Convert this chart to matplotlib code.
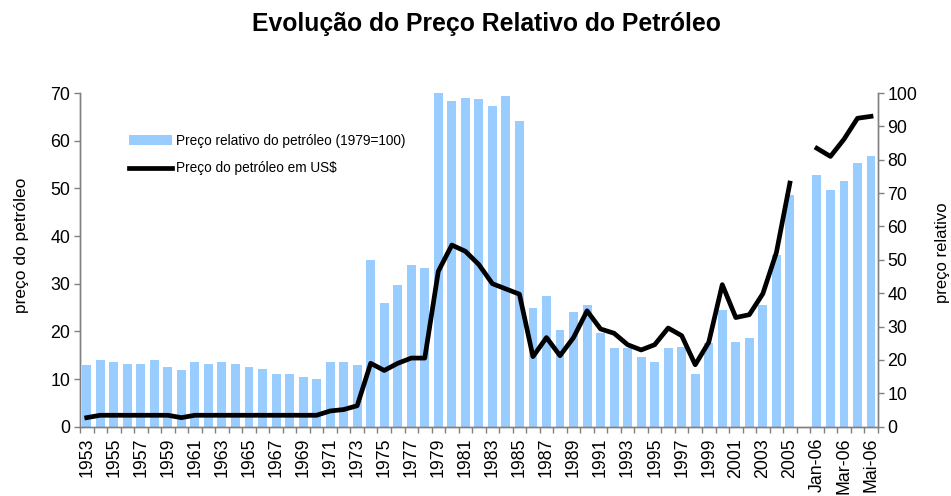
import numpy as np
import matplotlib
matplotlib.use('Agg')
import matplotlib.pyplot as plt
from matplotlib.patches import Patch
from matplotlib.lines import Line2D

plt.rcParams['font.family'] = ['Liberation Sans', 'DejaVu Sans']

# Categorias: anos 1953-2005, uma posição vazia e os meses de 2006
anos = [str(a) for a in range(1953, 2006)]
meses = ['Jan-06', 'Fev-06', 'Mar-06', 'Abr-06', 'Mai-06']
categorias = anos + [''] + meses

# Preço relativo do petróleo (1979=100), eixo da direita
preco_relativo = [18.5, 20.0, 19.4, 18.8, 18.8, 20.0, 17.9, 17.0, 19.4, 18.8,
                  19.4, 18.8, 17.9, 17.3, 15.8, 15.8, 14.9, 14.3, 19.4, 19.4,
                  18.5, 50.1, 37.2, 42.6, 48.6, 47.7, 100.0, 97.6, 98.5, 98.2,
                  96.1, 99.1, 91.6, 35.7, 39.3, 29.0, 34.5, 36.6, 28.2, 23.6,
                  23.6, 20.9, 19.4, 23.6, 23.9, 15.8, 25.2, 35.1, 25.5, 26.7,
                  36.6, 51.6, 69.3,
                  None,
                  75.4, 70.8, 73.5, 79.0, 81.1]

# Preço do petróleo em US$, eixo da esquerda
preco_usd = [1.9, 2.4, 2.4, 2.4, 2.4, 2.4, 2.4, 1.9, 2.4, 2.4,
             2.4, 2.4, 2.4, 2.4, 2.4, 2.4, 2.4, 2.4, 3.3, 3.6,
             4.4, 13.3, 11.8, 13.3, 14.4, 14.4, 32.6, 38.1, 36.8, 34.0,
             30.0, 28.9, 27.8, 14.7, 18.7, 14.9, 18.7, 24.3, 20.5, 19.6,
             17.2, 16.1, 17.2, 20.7, 19.1, 13.0, 17.7, 29.8, 22.9, 23.5,
             27.9, 36.5, 51.1,
             None,
             58.4, 56.7, 60.3, 64.7, 65.1]

x = np.arange(len(categorias))
rel = np.array([np.nan if v is None else v for v in preco_relativo])
usd = np.array([np.nan if v is None else v for v in preco_usd])

cor_barra = '#99CCFF'
cor_eixo = '#808080'

fig = plt.figure(figsize=(9.51, 4.96), dpi=100)
ax = fig.add_axes([0.0841, 0.1397, 0.8389, 0.6728])
ax2 = ax.twinx()

# Barras no eixo da direita, linha no eixo da esquerda (por cima)
ax2.bar(x, rel, width=0.66, color=cor_barra, zorder=2)
ax.plot(x, usd, color='black', linewidth=3.4, solid_joinstyle='round', zorder=3)
ax.set_zorder(ax2.get_zorder() + 1)
ax.patch.set_visible(False)

ax.set_xlim(-0.5, len(categorias) - 0.5)
ax.set_ylim(0, 70)
ax2.set_ylim(0, 100)
ax.set_yticks(np.arange(0, 71, 10))
ax2.set_yticks(np.arange(0, 101, 10))

# Marcas entre categorias, rótulos de dois em dois
ax.set_xticks(np.arange(-0.5, len(categorias), 1.0))
ax.set_xticklabels([])
ax.set_xticks(x[::2], minor=True)
ax.set_xticklabels([categorias[i] for i in x[::2]], minor=True, rotation=90, fontsize=12.8)
ax.tick_params(axis='x', which='minor', length=0, pad=8)
ax.tick_params(axis='x', which='major', length=4, width=1, color=cor_eixo)

ax.tick_params(axis='y', labelsize=12.8, length=4, width=1, color=cor_eixo, pad=3)
ax2.tick_params(axis='y', labelsize=12.8, length=4, width=1, color=cor_eixo, pad=3)

for a in (ax, ax2):
    a.spines['top'].set_visible(False)
    for s in ('left', 'right', 'bottom'):
        a.spines[s].set_color(cor_eixo)
        a.spines[s].set_linewidth(1)

ax.set_ylabel('preço do petróleo', fontsize=12.5)
ax.yaxis.set_label_coords(-0.064, 0.545)
ax2.set_ylabel('preço relativo', fontsize=12)
ax2.yaxis.set_label_coords(1.0714, 0.52)

fig.text(0.511, 0.952, 'Evolução do Preço Relativo do Petróleo',
         ha='center', va='center', fontsize=17.8, fontweight='bold')

# Legenda
handles = [Patch(facecolor=cor_barra, edgecolor='none'),
           Line2D([], [], color='black', linewidth=3.4)]
labels = ['Preço relativo do petróleo (1979=100)', 'Preço do petróleo em US$']
ax.legend(handles, labels, loc='upper left', bbox_to_anchor=(0.062, 0.878),
          frameon=False, fontsize=9.8, handlelength=3.1, handletextpad=0.3,
          labelspacing=1.0, borderpad=0, borderaxespad=0)

fig.savefig('out.png', dpi=100)
